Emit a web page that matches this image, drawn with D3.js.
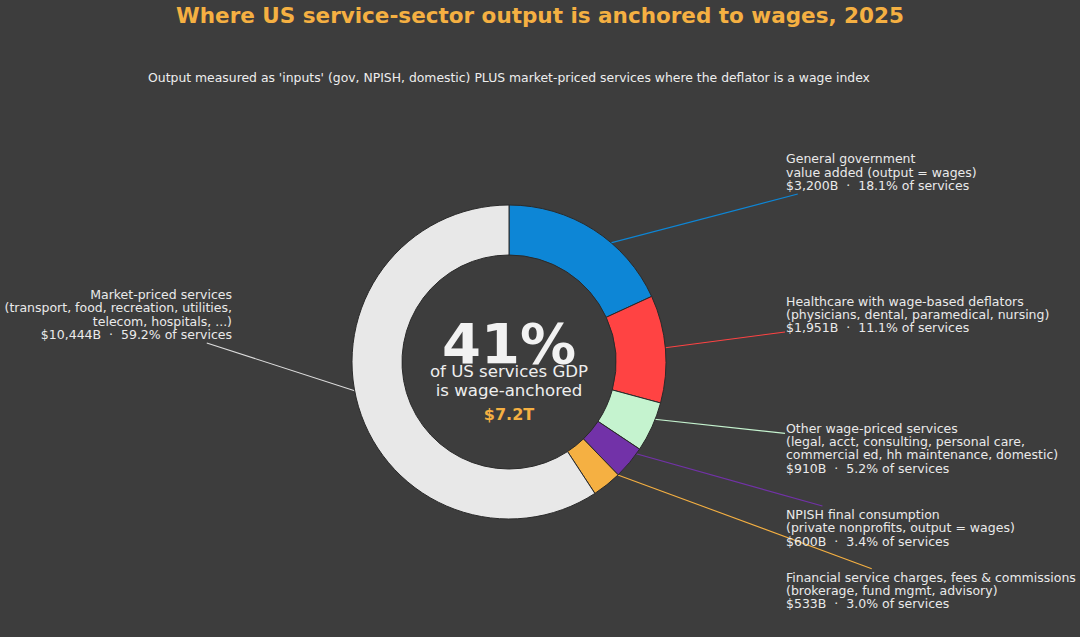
<!DOCTYPE html>
<html lang="en">
<head>
<meta charset="utf-8">
<title>Where US service-sector output is anchored to wages, 2025</title>
<script src="https://d3js.org/d3.v7.min.js"></script>
<style type="text/css">
  html, body { margin: 0; padding: 0; background: #3d3d3d; }
  svg { display: block; font-family: "DejaVu Sans", sans-serif; }
  text { white-space: pre; }
</style>
</head>
<body>
<script type="text/javascript">
// Data (billions of dollars, 2025)
var categories = [
  ["General government", "value added (output = wages)"],
  ["Healthcare with wage-based deflators", "(physicians, dental, paramedical, nursing)"],
  ["Other wage-priced services", "(legal, acct, consulting, personal care,", "commercial ed, hh maintenance, domestic)"],
  ["NPISH final consumption", "(private nonprofits, output = wages)"],
  ["Financial service charges, fees & commissions", "(brokerage, fund mgmt, advisory)"],
  ["Market-priced services", "(transport, food, recreation, utilities,", "telecom, hospitals, ...)"]
];
var values = [3200, 1951, 910, 600, 533, 10444];
var wageAnchored = [true, true, true, true, true, false];
var colors = ["#0d86d6", "#ff4343", "#c5f3cf", "#7232a8", "#f5b042", "#e8e8e8"];

// Label layout (first baseline, side)
var labelX = [786, 786, 786, 786, 786, 232];
var labelY = [163.3, 305.7, 432.7, 519, 581.7, 299];
var labelSide = ["right", "right", "right", "right", "right", "left"];

var w = 1080, h = 637;
var cx = 509, cy = 362;
var rOuter = 157, rInner = 107;
var lineH = 13.35;

var svg = d3.select("body").append("svg").attr("width", w).attr("height", h);
svg.append("rect").attr("width", w).attr("height", h).attr("fill", "#3d3d3d");

// Title + subtitle
svg.append("text")
  .attr("x", 540).attr("y", 22.5)
  .attr("text-anchor", "middle")
  .attr("font-size", 21.5).attr("font-weight", "bold")
  .attr("fill", "#f5b042")
  .text("Where US service-sector output is anchored to wages, 2025");

svg.append("text")
  .attr("x", 509).attr("y", 82)
  .attr("text-anchor", "middle")
  .attr("font-size", 12.4)
  .attr("fill", "#eeeeee")
  .text("Output measured as 'inputs' (gov, NPISH, domestic) PLUS market-priced services where the deflator is a wage index");

var total = d3.sum(values);
var anchoredTotal = d3.sum(values.filter(function(v, i) { return wageAnchored[i]; }));
var fmt = d3.format(",");

var pie = d3.pie().sort(null).value(function(d) { return d; });
var arcs = pie(values);
var arc = d3.arc().innerRadius(rInner).outerRadius(rOuter);

var lineLayer = svg.append("g");
var labelLayer = svg.append("g");

// Labels
labelLayer.selectAll("text.lbl")
  .data(arcs)
  .enter()
  .append("text")
    .attr("class", "lbl")
    .attr("font-size", 12.5)
    .attr("fill", "#eaeaea")
    .attr("text-anchor", function(d, i) { return labelSide[i] === "right" ? "start" : "end"; })
    .each(function(d, i) {
      var lines = categories[i].concat(["$" + fmt(values[i]) + "B  \u00b7  " + (values[i] / total * 100).toFixed(1) + "% of services"]);
      var t = d3.select(this);
      lines.forEach(function(s, k) {
        t.append("tspan")
          .attr("x", labelX[i])
          .attr("y", labelY[i] + k * lineH)
          .text(s);
      });
    });

// Leader lines: from mid-ring centroid towards label box centre, clipped at box edge
labelLayer.selectAll("text.lbl").each(function(d, i) {
  var b = this.getBBox();
  var pad = 1;
  var bx = b.x + b.width / 2, by = b.y + b.height / 2;
  var hw = b.width / 2 + pad, hh = b.height / 2 + pad;
  var c = arc.centroid(d);
  var px = c[0] + cx, py = c[1] + cy;
  var dx = px - bx, dy = py - by;
  var t = Math.min(dx !== 0 ? hw / Math.abs(dx) : Infinity, dy !== 0 ? hh / Math.abs(dy) : Infinity);
  lineLayer.append("line")
    .attr("x1", px).attr("y1", py)
    .attr("x2", bx + dx * t).attr("y2", by + dy * t)
    .attr("stroke", i === 5 ? "#dddddd" : colors[i])
    .attr("stroke-width", 1.1);
});

// Donut wedges on top of the leader lines
var wedges = svg.append("g").attr("transform", "translate(" + cx + "," + cy + ")");
wedges.selectAll("path")
  .data(arcs)
  .enter()
  .append("path")
    .attr("d", arc)
    .attr("fill", function(d, i) { return colors[i]; })
    .attr("stroke", "#2a2a2a")
    .attr("stroke-width", 1);

// Centre text
var center = svg.append("g").attr("text-anchor", "middle");
center.append("text")
  .attr("x", cx).attr("y", 363)
  .attr("font-size", 56).attr("font-weight", "bold")
  .attr("fill", "#f2f2f2")
  .text(Math.round(anchoredTotal / total * 100) + "%");
center.append("text")
  .attr("x", cx).attr("y", 377)
  .attr("font-size", 16.6)
  .attr("fill", "#eeeeee")
  .text("of US services GDP");
center.append("text")
  .attr("x", cx).attr("y", 395.6)
  .attr("font-size", 16.6)
  .attr("fill", "#eeeeee")
  .text("is wage-anchored");
center.append("text")
  .attr("x", cx).attr("y", 420)
  .attr("font-size", 16).attr("font-weight", "bold")
  .attr("fill", "#f5b042")
  .text("$" + (anchoredTotal / 1000).toFixed(1) + "T");
</script>
</body>
</html>
